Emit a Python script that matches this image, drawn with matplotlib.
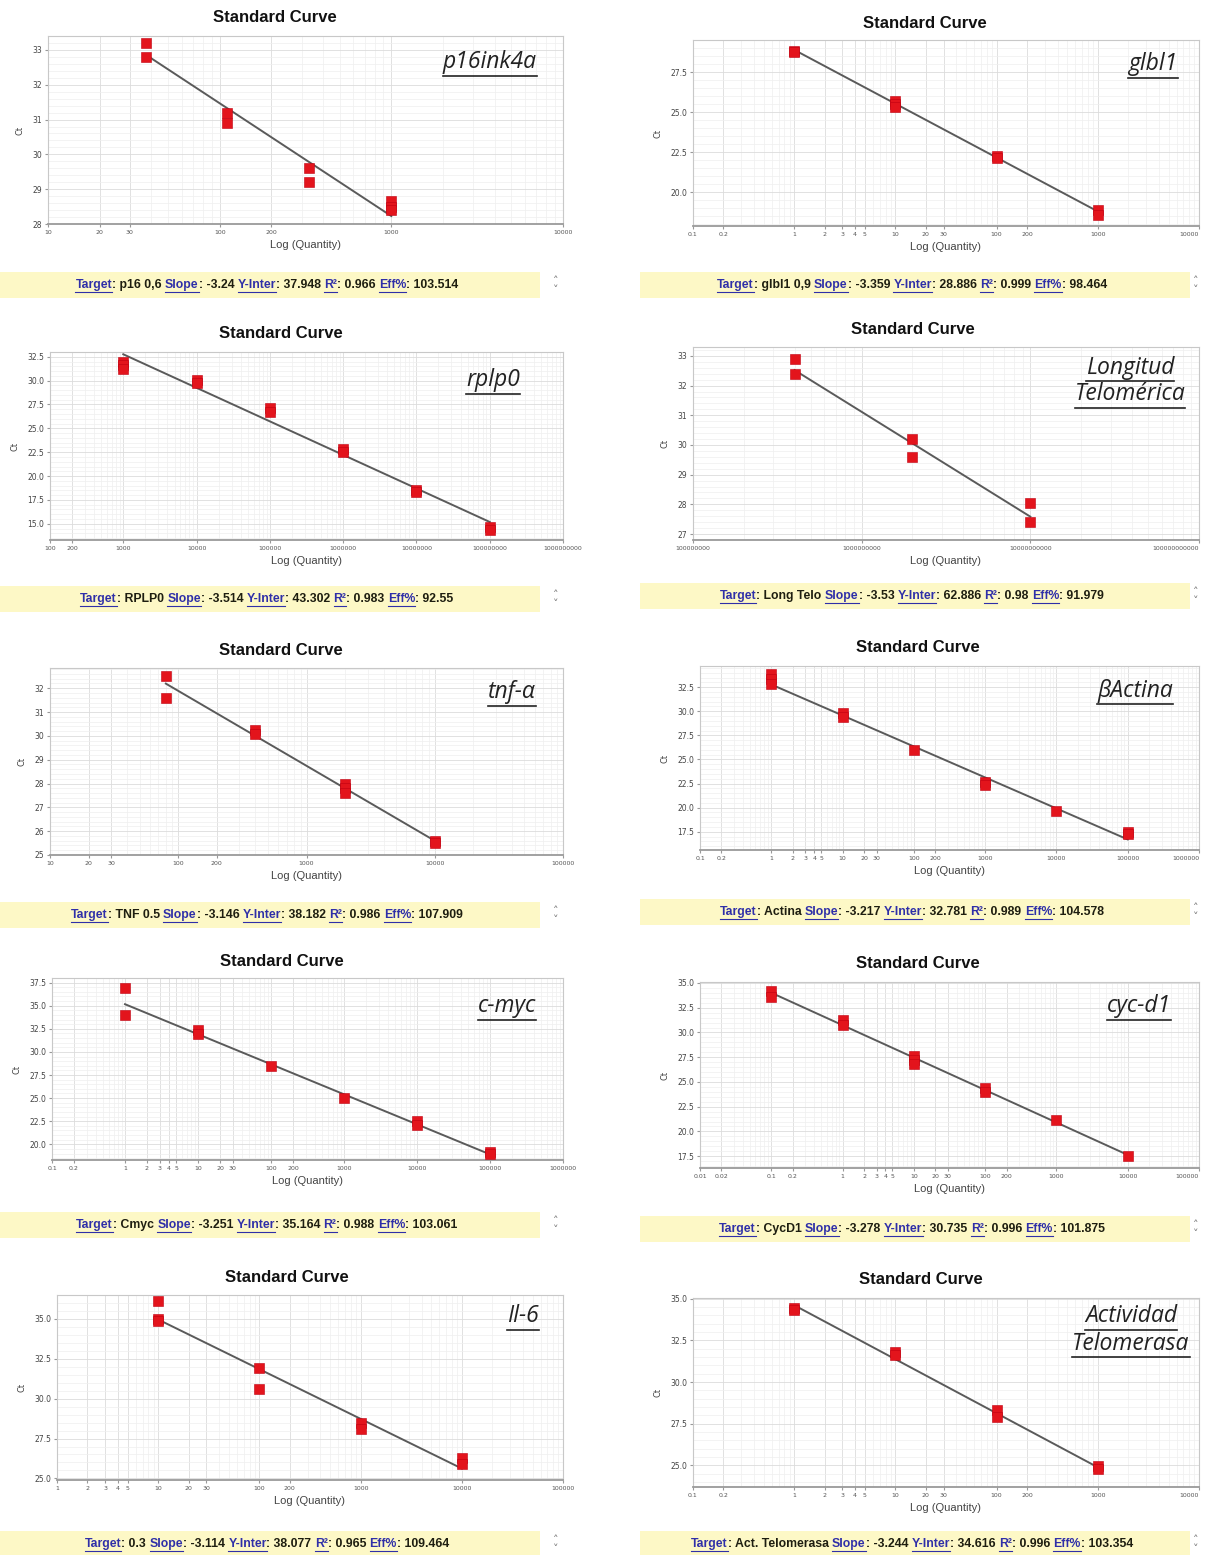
import matplotlib
matplotlib.use('Agg')
import matplotlib.pyplot as plt
from matplotlib.lines import Line2D
from matplotlib.patches import Rectangle
from matplotlib.ticker import FixedLocator, FixedFormatter, LogLocator, NullFormatter, MultipleLocator
import numpy as np

# ---- data ----
genes = ['p16ink4a', 'glbl1', 'rplp0', 'Longitud\nTelomérica', 'tnf-α',
         'βActina', 'c-myc', 'cyc-d1', 'Il-6', 'Actividad\nTelomerasa']
targets = ['p16 0,6', 'glbl1 0,9', 'RPLP0', 'Long Telo', 'TNF 0.5',
           'Actina', 'Cmyc', 'CycD1', '0.3', 'Act. Telomerasa']
slopes = [-3.24, -3.359, -3.514, -3.53, -3.146, -3.217, -3.251, -3.278, -3.114, -3.244]
yinters = [37.948, 28.886, 43.302, 62.886, 38.182, 32.781, 35.164, 30.735, 38.077, 34.616]
r2s = [0.966, 0.999, 0.983, 0.98, 0.986, 0.989, 0.988, 0.996, 0.965, 0.996]
effs = [103.514, 98.464, 92.55, 91.979, 107.909, 104.578, 103.061, 101.875, 109.464, 103.354]

p16_qty = [37, 37, 111, 111, 333, 333, 1000, 1000, 1000]
p16_ct = [33.2, 32.8, 31.2, 30.9, 29.6, 29.2, 28.65, 28.5, 28.4]
glb_qty = [1, 1, 10, 10, 10, 100, 100, 1000, 1000]
glb_ct = [28.8, 28.75, 25.7, 25.5, 25.35, 22.25, 22.15, 18.9, 18.6]
rpl_qty = [1e3, 1e3, 1e3, 1e4, 1e4, 1e5, 1e5, 1e6, 1e6, 1e7, 1e7, 1e8, 1e8]
rpl_ct = [32.0, 31.6, 31.2, 30.1, 29.7, 27.1, 26.7, 22.8, 22.5, 18.5, 18.3, 14.7, 14.3]
tel_qty = [4e8, 4e8, 2e9, 2e9, 1e10, 1e10]
tel_ct = [32.9, 32.4, 30.2, 29.6, 28.05, 27.4]
tnf_qty = [80, 80, 400, 400, 2000, 2000, 2000, 10000, 10000]
tnf_ct = [32.5, 31.6, 30.25, 30.1, 28.0, 27.8, 27.6, 25.6, 25.5]
act_qty = [1, 1, 1, 10, 10, 100, 1000, 1000, 1e4, 1e5, 1e5]
act_ct = [33.9, 33.3, 32.8, 29.8, 29.4, 26.0, 22.7, 22.3, 19.7, 17.5, 17.3]
myc_qty = [1, 1, 10, 10, 100, 1000, 1e4, 1e4, 1e5, 1e5]
myc_ct = [36.9, 34.0, 32.4, 31.9, 28.5, 25.0, 22.5, 22.1, 19.2, 18.9]
cyc_qty = [0.1, 0.1, 1, 1, 10, 10, 10, 100, 100, 1000, 1e4]
cyc_ct = [34.2, 33.6, 31.3, 30.8, 27.6, 27.2, 26.8, 24.4, 24.0, 21.2, 17.5]
il6_qty = [10, 10, 10, 100, 100, 1000, 1000, 1e4, 1e4]
il6_ct = [36.1, 35.0, 34.9, 31.9, 30.6, 28.5, 28.1, 26.3, 25.9]
ate_qty = [1, 1, 10, 10, 100, 100, 1000, 1000]
ate_ct = [34.45, 34.3, 31.8, 31.6, 28.3, 27.9, 24.95, 24.8]

qtys = [p16_qty, glb_qty, rpl_qty, tel_qty, tnf_qty, act_qty, myc_qty, cyc_qty, il6_qty, ate_qty]
cts = [p16_ct, glb_ct, rpl_ct, tel_ct, tnf_ct, act_ct, myc_ct, cyc_ct, il6_ct, ate_ct]

dec_small = [1, 2, 3, 4, 5]
xticks = [
    [10, 20, 30, 100, 200, 1000, 10000],
    [0.1, 0.2] + dec_small + [10, 20, 30, 100, 200, 1000, 10000],
    [100, 200, 1e3, 1e4, 1e5, 1e6, 1e7, 1e8, 1e9],
    [1e8, 1e9, 1e10, 1e11],
    [10, 20, 30, 100, 200, 1000, 10000, 100000],
    [0.1, 0.2] + dec_small + [10, 20, 30, 100, 200, 1000, 1e4, 1e5, 1e6],
    [0.1, 0.2] + dec_small + [10, 20, 30, 100, 200, 1000, 1e4, 1e5, 1e6],
    [0.01, 0.02, 0.1, 0.2] + dec_small + [10, 20, 30, 100, 200, 1000, 1e4, 1e5],
    dec_small + [10, 20, 30, 100, 200, 1000, 1e4, 1e5],
    [0.1, 0.2] + dec_small + [10, 20, 30, 100, 200, 1000, 10000],
]
xlims = [(10, 1e4), (0.1, 1e4), (100, 1e9), (1e8, 1e11), (10, 1e5),
         (0.1, 1e6), (0.1, 1e6), (0.01, 1e5), (1, 1e5), (0.1, 1e4)]
ylims = [(28, 33.4), (17.9, 29.5), (13.3, 33.0), (26.8, 33.3), (25.0, 32.85),
         (15.6, 34.7), (18.3, 38.0), (16.3, 35.1), (24.9, 36.5), (23.7, 35.05)]
ysteps = [1, 2.5, 2.5, 1, 1, 2.5, 2.5, 2.5, 2.5, 2.5]

# ---- layout (pixels in the 1207x1555 image) ----
W, H = 1207, 1555
axes_px = [(48, 36, 563, 224), (693, 40, 1199, 226), (50, 352, 563, 540), (693, 347, 1199, 540),
           (50, 668, 563, 855), (700, 666, 1199, 850), (52, 978, 563, 1160), (700, 982, 1199, 1168),
           (57, 1295, 563, 1480), (693, 1298, 1199, 1487)]
title_px = [(275, 17), (925, 23), (281, 334), (913, 330), (281, 650),
            (918, 647), (282, 962), (918, 964), (287, 1277), (921, 1280)]
gene_px = [(490, 62), (1153, 64), (493, 380), (1130, 381), (512, 692),
           (1135, 691), (507, 1006), (1139, 1006), (523, 1316), (1131, 1330)]
bar_y = [285, 285, 599, 596, 915, 912, 1225, 1229, 1544, 1544]

fig = plt.figure(figsize=(W / 100, H / 100), dpi=100)
fig.patch.set_facecolor('white')
renderer = fig.canvas.get_renderer()

link_col = '#2f2fa8'
text_col = '#1e1e10'


def fy(y):
    return 1 - y / H


def underline(t, pad=1.5, lw=1.2, color='#222222'):
    bb = t.get_window_extent(renderer)
    fig.add_artist(Line2D([bb.x0 / W, bb.x1 / W], [(bb.y0 - pad) / H] * 2,
                          transform=fig.transFigure, color=color, lw=lw))


def info_bar(i, cy):
    left_col = i % 2 == 0
    x0, x1 = (0, 540) if left_col else (640, 1190)
    fig.patches.append(Rectangle((x0 / W, fy(cy + 13)), (x1 - x0) / W, 26 / H,
                                 transform=fig.transFigure, facecolor='#fdf8c6', edgecolor='none'))
    pieces = [('Target', True), (': %s ' % targets[i], False), ('Slope', True),
              (': %s ' % slopes[i], False), ('Y-Inter', True), (': %s ' % yinters[i], False),
              ('R²', True), (': %s ' % r2s[i], False), ('Eff%', True), (': %s' % effs[i], False)]
    kw = dict(fontsize=8.8, fontweight='bold', family='Liberation Sans')
    meas = fig.text(0, 0, '|', **kw)
    bar_w = meas.get_window_extent(renderer).width

    def width(s):
        meas.set_text('|' + s + '|')
        return meas.get_window_extent(renderer).width - 2 * bar_w

    full = ''.join(p for p, _ in pieces)
    total = width(full)
    start = (x0 + x1) / 2 - total / 2 - 3
    prefix = ''
    for s, link in pieces:
        xs = start + width(prefix)
        fig.text(xs / W, fy(cy), s, ha='left', va='center',
                 color=link_col if link else text_col, **kw)
        if link:
            xe = xs + width(s)
            fig.add_artist(Line2D([xs / W, xe / W], [fy(cy + 6.5)] * 2, transform=fig.transFigure,
                                  color=link_col, lw=0.8))
        prefix += s
    meas.remove()
    ax_x = 556 if left_col else 1196
    fig.text(ax_x / W, fy(cy - 4), '˄', ha='center', va='center', fontsize=8, color='#777777')
    fig.text(ax_x / W, fy(cy + 5), '˅', ha='center', va='center', fontsize=8, color='#777777')


def fmt_x(v):
    return ('%g' % v) if v < 1 else str(int(round(v)))


for i in range(10):
    l, t, r, b = axes_px[i]
    ax = fig.add_axes([l / W, fy(b), (r - l) / W, (b - t) / H])
    ax.set_xscale('log')
    ax.set_xlim(*xlims[i])
    ax.set_ylim(*ylims[i])

    ax.xaxis.set_major_locator(FixedLocator(xticks[i]))
    ax.xaxis.set_major_formatter(FixedFormatter([fmt_x(v) for v in xticks[i]]))
    ax.xaxis.set_minor_locator(LogLocator(base=10, subs=np.arange(1, 10)))
    ax.xaxis.set_minor_formatter(NullFormatter())
    ax.yaxis.set_major_locator(MultipleLocator(ysteps[i]))
    ax.yaxis.set_minor_locator(MultipleLocator(ysteps[i] / 5))
    if ysteps[i] == 1:
        ax.yaxis.set_major_formatter(plt.FormatStrFormatter('%d'))
    else:
        ax.yaxis.set_major_formatter(plt.FormatStrFormatter('%.1f'))

    ax.grid(True, which='major', color='#dcdcdc', lw=0.6)
    ax.grid(True, which='minor', color='#efefef', lw=0.5)
    ax.set_axisbelow(True)
    for side in ['top', 'right', 'left']:
        ax.spines[side].set_color('#c8c8c8')
        ax.spines[side].set_linewidth(0.8)
    ax.spines['bottom'].set_color('#9a9a9a')
    ax.spines['bottom'].set_linewidth(1.3)
    ax.tick_params(axis='x', which='major', labelsize=4.5, length=2, color='#999999',
                   labelcolor='#555555', pad=2)
    ax.tick_params(axis='y', which='major', labelsize=5.5, length=2, color='#999999',
                   labelcolor='#444444', pad=2)
    ax.tick_params(which='minor', length=0)
    if i % 2 == 1:
        ax.get_xticklabels()[-1].set_ha('right')

    # fitted standard curve from the reported slope / intercept
    q = np.array(qtys[i], dtype=float)
    xs = np.array([q.min(), q.max()])
    ax.plot(xs, yinters[i] + slopes[i] * np.log10(xs), color='#5a5a5a', lw=1.4, zorder=3)
    ax.plot(qtys[i], cts[i], 's', color='#e3141c', markersize=6.5, markeredgewidth=0.4,
            markeredgecolor='#c00010', zorder=4)

    ax.set_xlabel('Log (Quantity)', fontsize=8, color='#444444', labelpad=4,
                  family='Liberation Sans')
    ax.set_ylabel('Ct', fontsize=6, color='#444444', labelpad=6)

    tx, ty = title_px[i]
    fig.text(tx / W, fy(ty), 'Standard Curve', ha='center', va='center', fontsize=12,
             fontweight='bold', family='Liberation Sans', color='#111111')

    gx, gy = gene_px[i]
    lines = genes[i].split('\n')
    n = len(lines)
    for k, s in enumerate(lines):
        yy = gy + (k - (n - 1) / 2) * 27
        gt = fig.text(gx / W, fy(yy), s, ha='center', va='center', fontsize=16.5,
                      style='italic', family=['Open Sans', 'DejaVu Sans'], color='#222222')
        underline(gt)

    info_bar(i, bar_y[i])

fig.savefig('out.png', dpi=100)
